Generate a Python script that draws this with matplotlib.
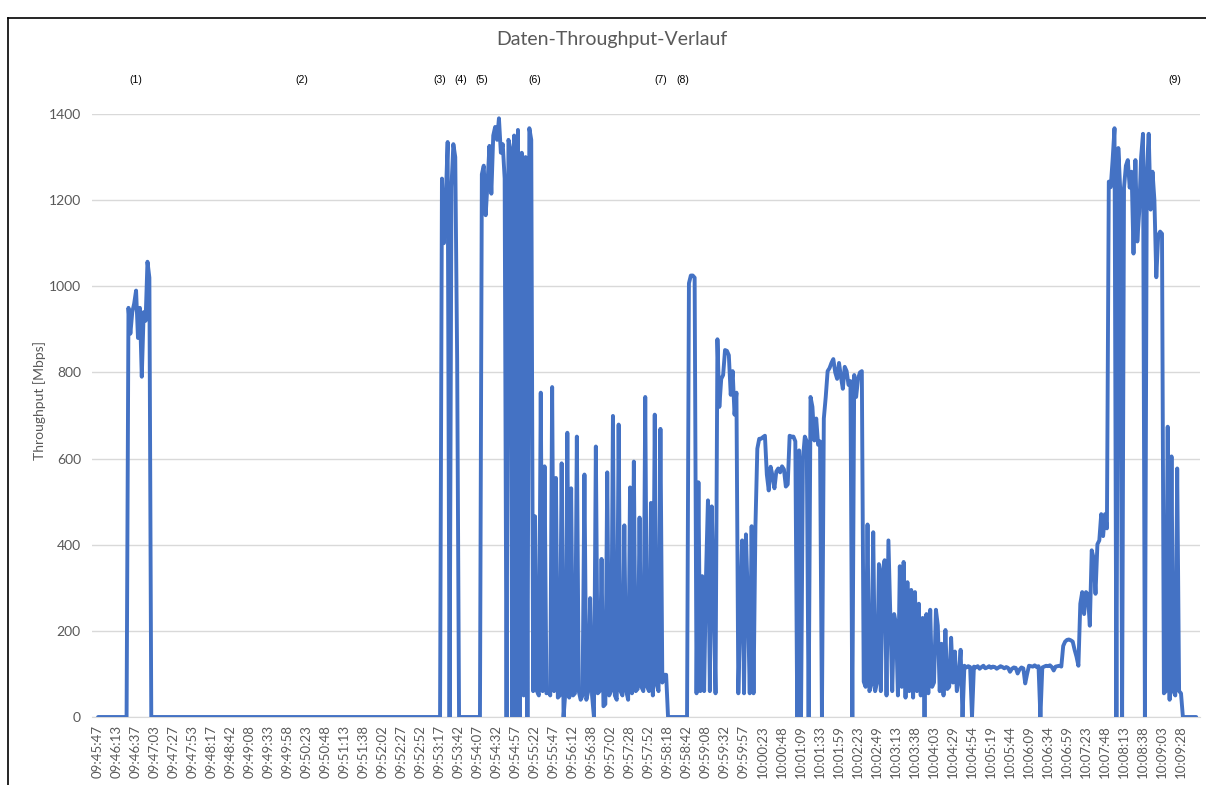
import matplotlib
matplotlib.use("Agg")
import matplotlib.pyplot as plt
from matplotlib.lines import Line2D

# one tick label every 10 samples
time_labels = [
    "09:45:47", "09:46:13", "09:46:37", "09:47:03", "09:47:27", "09:47:53",
    "09:48:17", "09:48:42", "09:49:08", "09:49:33", "09:49:58", "09:50:23",
    "09:50:48", "09:51:13", "09:51:38", "09:52:02", "09:52:27", "09:52:52",
    "09:53:17", "09:53:42", "09:54:07", "09:54:32", "09:54:57", "09:55:22",
    "09:55:47", "09:56:12", "09:56:38", "09:57:02", "09:57:28", "09:57:52",
    "09:58:18", "09:58:42", "09:59:08", "09:59:32", "09:59:57", "10:00:23",
    "10:00:48", "10:01:09", "10:01:33", "10:01:59", "10:02:23", "10:02:49",
    "10:03:13", "10:03:38", "10:04:03", "10:04:29", "10:04:54", "10:05:19",
    "10:05:44", "10:06:09", "10:06:34", "10:06:59", "10:07:23", "10:07:48",
    "10:08:13", "10:08:38", "10:09:03", "10:09:28",
]

# throughput in Mbps, one row per tick label
throughput = [
    0, 0, 0, 0, 0, 0, 0, 0, 0, 0,
    0, 0, 0, 0, 0, 0, 950, 890, 940, 960,
    990, 880, 950, 790, 940, 920, 1057, 1020, 0, 0,
    0, 0, 0, 0, 0, 0, 0, 0, 0, 0,
    0, 0, 0, 0, 0, 0, 0, 0, 0, 0,
    0, 0, 0, 0, 0, 0, 0, 0, 0, 0,
    0, 0, 0, 0, 0, 0, 0, 0, 0, 0,
    0, 0, 0, 0, 0, 0, 0, 0, 0, 0,
    0, 0, 0, 0, 0, 0, 0, 0, 0, 0,
    0, 0, 0, 0, 0, 0, 0, 0, 0, 0,
    0, 0, 0, 0, 0, 0, 0, 0, 0, 0,
    0, 0, 0, 0, 0, 0, 0, 0, 0, 0,
    0, 0, 0, 0, 0, 0, 0, 0, 0, 0,
    0, 0, 0, 0, 0, 0, 0, 0, 0, 0,
    0, 0, 0, 0, 0, 0, 0, 0, 0, 0,
    0, 0, 0, 0, 0, 0, 0, 0, 0, 0,
    0, 0, 0, 0, 0, 0, 0, 0, 0, 0,
    0, 0, 0, 0, 0, 0, 0, 0, 0, 0,
    0, 1250, 1100, 1200, 1335, 0, 1230, 1330, 1300, 830,
    0, 0, 0, 0, 0, 0, 0, 0, 0, 0,
    0, 0, 1260, 1280, 1165, 1240, 1326, 1215, 1350, 1370,
    1340, 1390, 1310, 1330, 1250, 0, 1340, 1320, 0, 1350,
    0, 1363, 0, 1310, 50, 1300, 0, 1367, 1340, 60,
    466, 60, 50, 753, 60, 582, 55, 60, 50, 766,
    60, 555, 45, 50, 589, 0, 60, 660, 45, 531,
    50, 55, 651, 60, 40, 50, 563, 40, 60, 276,
    50, 0, 628, 55, 60, 367, 25, 30, 568, 50,
    60, 699, 50, 40, 679, 60, 50, 445, 60, 40,
    533, 55, 593, 60, 65, 463, 70, 60, 743, 70,
    60, 497, 50, 702, 75, 60, 669, 80, 98, 98,
    0, 0, 0, 0, 0, 0, 0, 0, 0, 0,
    0, 1007, 1025, 1025, 1020, 55, 545, 60, 327, 60,
    330, 503, 60, 489, 286, 55, 877, 720, 785, 794,
    852, 850, 840, 748, 803, 702, 753, 55, 244, 410,
    55, 424, 272, 55, 443, 55, 443, 623, 646, 646,
    650, 653, 563, 526, 581, 560, 531, 570, 577, 568,
    582, 575, 535, 540, 653, 651, 651, 640, 0, 619,
    0, 600, 651, 640, 0, 743, 720, 642, 693, 632,
    640, 0, 693, 743, 803, 810, 822, 831, 800, 785,
    822, 790, 762, 813, 803, 771, 780, 0, 794, 743,
    785, 800, 803, 82, 70, 447, 60, 75, 429, 60,
    80, 355, 60, 341, 364, 50, 410, 230, 60, 239,
    216, 50, 350, 70, 360, 45, 313, 60, 295, 45,
    290, 60, 263, 50, 230, 0, 239, 55, 249, 70,
    80, 249, 212, 60, 170, 50, 202, 65, 70, 184,
    80, 152, 60, 90, 156, 0, 119, 115, 118, 116,
    0, 117, 115, 118, 112, 116, 119, 113, 115, 118,
    114, 117, 116, 112, 115, 118, 116, 113, 116, 114,
    105, 112, 115, 114, 101, 110, 115, 113, 78, 100,
    119, 118, 117, 120, 116, 118, 0, 115, 117, 119,
    118, 120, 116, 108, 117, 118, 119, 117, 165, 175,
    179, 180, 178, 175, 156, 140, 119, 263, 290, 239,
    290, 285, 212, 387, 369, 286, 401, 410, 471, 420,
    471, 438, 1243, 1230, 1293, 1367, 0, 1321, 1224, 0,
    1229, 1280, 1293, 1229, 1266, 1076, 1293, 1104, 1173, 1300,
    1354, 0, 1266, 1354, 1178, 1266, 1200, 1021, 1118, 1127,
    1122, 55, 60, 674, 40, 605, 60, 50, 577, 60,
    55, 0, 0, 0, 0, 0, 0, 0, 0,
]

# test phases marked above the plot (sample index where the marker sits)
phase_labels = ["(1)", "(2)", "(3)", "(4)", "(5)", "(6)", "(7)", "(8)", "(9)"]
phase_index = [20, 107, 180, 191, 202, 230, 296, 308, 567]

GREY = "#595959"
W, H = 1206, 785

fig = plt.figure(figsize=(W / 100, H / 100), dpi=100)
fig.patch.set_facecolor("white")

# plot area in pixels: x 92..1200, y 114..717 (from top)
ax = fig.add_axes([92 / W, (H - 717) / H, 1108 / W, 603 / H])

x = list(range(len(throughput)))
ax.plot(x, throughput, color="#4472C4", linewidth=2.8,
        solid_joinstyle="round", solid_capstyle="round", zorder=3)

ax.set_xlim(-3.2, 580)
ax.set_ylim(0, 1400)

ax.set_yticks(range(0, 1401, 200))
ax.set_yticklabels([str(v) for v in range(0, 1401, 200)],
                   fontsize=10, color=GREY, family="Lato")
ax.set_xticks(range(0, len(time_labels) * 10, 10))
ax.set_xticklabels(time_labels, rotation=90, fontsize=9.5,
                   color=GREY, family="Lato")
ax.tick_params(axis="both", length=0)
ax.tick_params(axis="y", pad=8)
ax.tick_params(axis="x", pad=6)

ax.grid(axis="y", color="#d9d9d9", linewidth=1)
ax.set_axisbelow(True)
for side in ["top", "right", "left"]:
    ax.spines[side].set_visible(False)
ax.spines["bottom"].set_color("#d9d9d9")

# phase markers
for label, idx in zip(phase_labels, phase_index):
    ax.text(idx, 1.056, label, transform=ax.get_xaxis_transform(),
            ha="center", va="center", fontsize=7.5, color="black",
            family="Liberation Sans", clip_on=False)

fig.text(612 / W, 1 - 40 / H, "Daten-Throughput-Verlauf", ha="center",
         va="center", fontsize=14, color=GREY, family="Lato")
fig.text(40 / W, 1 - 400 / H, "Throughput [Mbps]", rotation=90,
         ha="center", va="center", fontsize=10, color=GREY, family="Lato")

# outer frame of the chart object
fig.add_artist(Line2D([8 / W, 8 / W], [0, 1 - 18 / H],
                      transform=fig.transFigure, color="black", linewidth=1.2))
fig.add_artist(Line2D([8 / W, 1], [1 - 18 / H, 1 - 18 / H],
                      transform=fig.transFigure, color="black", linewidth=1.2))

fig.savefig("out.png", dpi=100)
